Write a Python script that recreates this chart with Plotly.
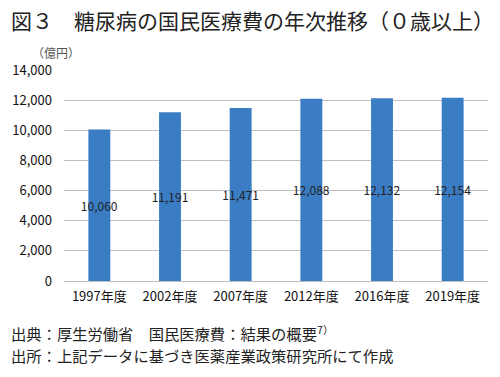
import plotly.graph_objects as go

categories = ["1997年度", "2002年度", "2007年度", "2012年度", "2016年度", "2019年度"]
values = [10060, 11191, 11471, 12088, 12132, 12154]
labels = [f"{v:,}" for v in values]
tick_vals = [0, 2000, 4000, 6000, 8000, 10000, 12000, 14000]
tick_text = [f"{v:,}" for v in tick_vals]

font_jp = "Noto Sans CJK JP"

fig = go.Figure()
fig.add_trace(go.Bar(
    x=categories, y=values, text=labels,
    textposition="inside", insidetextanchor="middle", constraintext="none",
    textfont=dict(color="#222222", size=12, family=font_jp),
    marker=dict(color="#3A7DC5", line=dict(width=0)),
    width=0.31, cliponaxis=False, textangle=0,
))

fig.update_layout(
    width=500, height=377,
    margin=dict(l=64, r=12, t=70, b=96),
    paper_bgcolor="white", plot_bgcolor="white",
    showlegend=False,
    font=dict(family=font_jp, color="#222222"),
)
fig.update_yaxes(
    range=[0, 14000], tickvals=tick_vals, ticktext=tick_text,
    showgrid=True, gridcolor="#BFBFBF", gridwidth=1,
    zeroline=True, zerolinecolor="#BFBFBF", zerolinewidth=1,
    showline=False, ticks="", ticklen=0, ticklabelstandoff=11,
    tickfont=dict(size=13, color="#111111", family=font_jp),
    fixedrange=True,
)
fig.update_xaxes(
    showgrid=False, showline=False, ticks="", ticklabelstandoff=6,
    tickfont=dict(size=13, color="#111111", family=font_jp),
    fixedrange=True,
)

fig.add_annotation(
    text="図３　糖尿病の国民医療費の年次推移（０歳以上）",
    xref="paper", yref="paper", x=-64/424, y=1 + 50/211,
    xanchor="left", yanchor="middle", showarrow=False,
    font=dict(size=21, color="#222222", family=font_jp),
    xshift=9,
)
fig.add_annotation(
    text="（億円）",
    xref="paper", yref="paper", x=-64/424, y=1 + 18/211,
    xanchor="left", yanchor="middle", showarrow=False,
    font=dict(size=12, color="#555555", family=font_jp),
    xshift=30,
)
fig.add_annotation(
    text="出典：厚生労働省　国民医療費：結果の概要<sup>7）</sup>",
    xref="paper", yref="paper", x=-64/424, y=-52/211,
    xanchor="left", yanchor="middle", showarrow=False,
    font=dict(size=15.3, color="#222222", family=font_jp),
    xshift=9,
)
fig.add_annotation(
    text="出所：上記データに基づき医薬産業政策研究所にて作成",
    xref="paper", yref="paper", x=-64/424, y=-74/211,
    xanchor="left", yanchor="middle", showarrow=False,
    font=dict(size=15.3, color="#222222", family=font_jp),
    xshift=9,
)

fig.write_html("out.html", config={"displayModeBar": False},
               post_script="document.body.style.margin='0';")
